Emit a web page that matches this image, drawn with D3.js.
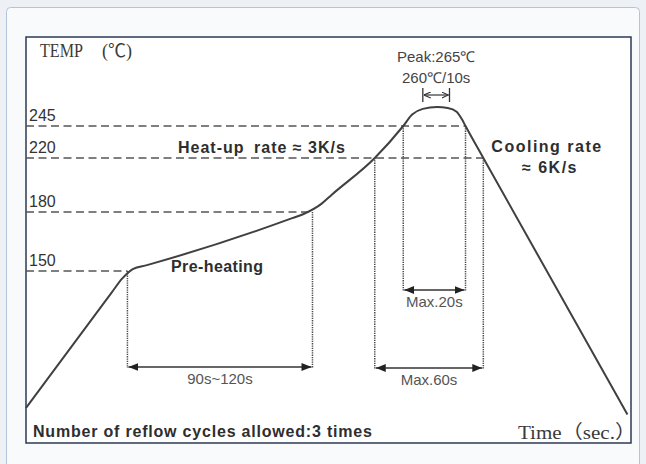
<!DOCTYPE html>
<html>

<head>
    <title>reflow profile</title>
    <style>
    body {
        margin: 0;
        background: #edf1f5;
    }

    svg#profile text {
        font-family: "Liberation Sans", Arial, sans-serif;
        fill: #333;
    }

    svg#profile text.serif {
        font-family: "Liberation Serif", "Noto Sans CJK SC", serif;
        fill: #3a3a3a;
    }

    svg#profile text.bold {
        font-weight: bold;
        font-size: 16px;
        letter-spacing: 1px;
        fill: #2e2e2e;
    }

    svg#profile text.small {
        font-size: 15px;
        fill: #555;
    }

    path.curve {
        fill: none;
        stroke: #404040;
        stroke-width: 2;
    }

    line.level {
        stroke: #555;
        stroke-width: 1.6;
        stroke-dasharray: 8 4.5;
    }

    line.drop {
        stroke: #4a4a4a;
        stroke-width: 1.5;
        stroke-dasharray: 1.3 1;
    }

    line.span {
        stroke: #333;
        stroke-width: 1.5;
    }
    </style>
</head>

<body>
    <svg id="profile"></svg>
    <script src="https://cdnjs.cloudflare.com/ajax/libs/d3/7.8.5/d3.min.js"></script>
    <script>
    // profile: time (s) / temperature (degC)
    var timeSec = [0, 48, 54, 60, 68, 150, 156, 166, 172, 196, 212, 217, 223, 231, 237, 242, 245, 247, 257, 338];
    var tempC = [25, 130, 143, 151, 153, 177, 179, 186, 193, 220, 245, 257, 263, 265, 264, 260, 252, 245, 220, 19];

    // dashed temperature levels and where they meet the curve
    var levelTemps = [245, 220, 180, 150];
    var levelEndTimes = [247, 257, 161, 57];

    // time spans under the curve
    var spanLabels = ['90s~120s', 'Max.60s', 'Max.20s'];
    var spanFrom = [57, 196, 212];
    var spanTo = [161, 257, 247];
    var spanFromTemp = [150, 220, 245];
    var spanToTemp = [180, 220, 245];

    // peak dwell
    var dwellFrom = 223;
    var dwellTo = 238;
    var peakLabels = ['Peak:265\u2103', '260\u2103/10s'];

    var chart = {
        width: 646,
        height: 464,
        box: { left: 26, top: 37, right: 631, bottom: 443 },
        spanY: [367, 368, 290],
        dwellY: 95
    };

    var svg = d3.select('svg#profile')
        .attr('width', chart.width)
        .attr('height', chart.height);

    var box = chart.box;

    // the sketch is not to scale, so the temperature axis is piecewise
    var x = d3.scaleLinear().domain([0, 340]).range([box.left, box.right]);
    var y = d3.scaleLinear()
        .domain([25, 150, 180, 220, 245, 265])
        .range([408, 271, 212, 158, 126, 107]);

    var defs = svg.append('defs');
    defs.append('marker')
        .attr('id', 'head')
        .attr('viewBox', '0 0 10 8')
        .attr('refX', 10).attr('refY', 4)
        .attr('markerUnits', 'userSpaceOnUse')
        .attr('markerWidth', 10).attr('markerHeight', 8)
        .attr('orient', 'auto-start-reverse')
        .append('path')
        .attr('d', 'M0,0 L10,4 L0,8 Z')
        .attr('fill', '#222');
    defs.append('marker')
        .attr('id', 'open')
        .attr('viewBox', '0 0 8 8')
        .attr('refX', 8).attr('refY', 4)
        .attr('markerUnits', 'userSpaceOnUse')
        .attr('markerWidth', 7).attr('markerHeight', 7)
        .attr('orient', 'auto-start-reverse')
        .append('path')
        .attr('d', 'M0,0.5 L8,4 L0,7.5')
        .attr('fill', 'none')
        .attr('stroke', '#333')
        .attr('stroke-width', 1.2);

    // page panel + frame
    svg.append('rect')
        .attr('x', 6.5).attr('y', 7.5)
        .attr('width', 633).attr('height', 470)
        .attr('rx', 4)
        .attr('fill', '#f8fafc')
        .attr('stroke', '#b4c4d8');
    svg.append('rect')
        .attr('x', box.left).attr('y', box.top)
        .attr('width', box.right - box.left)
        .attr('height', box.bottom - box.top)
        .attr('fill', '#fff')
        .attr('stroke', '#2c3a56')
        .attr('stroke-width', 1.5);

    // dashed levels
    svg.selectAll('line.level')
        .data(levelTemps)
        .enter().append('line')
        .attr('class', 'level')
        .attr('x1', box.left)
        .attr('x2', function(d, i) { return x(levelEndTimes[i]); })
        .attr('y1', function(d) { return y(d); })
        .attr('y2', function(d) { return y(d); });

    svg.selectAll('text.tick')
        .data(levelTemps)
        .enter().append('text')
        .attr('class', 'tick')
        .attr('x', box.left + 3)
        .attr('y', function(d) { return y(d) - 5.5; })
        .style('font-size', '16px')
        .text(function(d) { return d; });

    // dotted drops + span arrows
    spanLabels.forEach(function(label, i) {
        var ay = chart.spanY[i];
        svg.append('line').attr('class', 'drop')
            .attr('x1', x(spanFrom[i])).attr('x2', x(spanFrom[i]))
            .attr('y1', y(spanFromTemp[i])).attr('y2', ay + 1);
        svg.append('line').attr('class', 'drop')
            .attr('x1', x(spanTo[i])).attr('x2', x(spanTo[i]))
            .attr('y1', y(spanToTemp[i])).attr('y2', ay + 1);
        svg.append('line').attr('class', 'span')
            .attr('x1', x(spanFrom[i]) + 1).attr('x2', x(spanTo[i]) - 1)
            .attr('y1', ay).attr('y2', ay)
            .attr('marker-start', 'url(#head)')
            .attr('marker-end', 'url(#head)');
        svg.append('text').attr('class', 'small')
            .attr('x', (x(spanFrom[i]) + x(spanTo[i])) / 2)
            .attr('y', ay + 17)
            .attr('text-anchor', 'middle')
            .text(label);
    });

    // the profile
    var line = d3.line()
        .x(function(d, i) { return x(timeSec[i]); })
        .y(function(d) { return y(d); })
        .curve(d3.curveMonotoneX);
    svg.append('path')
        .attr('class', 'curve')
        .attr('d', line(tempC));

    // peak dwell marker
    var dy = chart.dwellY;
    [dwellFrom, dwellTo].forEach(function(t) {
        svg.append('line')
            .attr('x1', x(t)).attr('x2', x(t))
            .attr('y1', dy - 7).attr('y2', dy + 7)
            .attr('stroke', '#333').attr('stroke-width', 1.3);
    });
    svg.append('line')
        .attr('x1', x(dwellFrom) + 1).attr('x2', x(dwellTo) - 1)
        .attr('y1', dy).attr('y2', dy)
        .attr('stroke', '#333').attr('stroke-width', 1.2)
        .attr('marker-start', 'url(#open)')
        .attr('marker-end', 'url(#open)');
    peakLabels.forEach(function(s, i) {
        svg.append('text')
            .attr('x', (x(dwellFrom) + x(dwellTo)) / 2)
            .attr('y', 62 + i * 21)
            .attr('text-anchor', 'middle')
            .style('font-size', '15px')
            .style('fill', '#444')
            .text(s);
    });

    // titles and notes
    svg.append('text').attr('class', 'serif')
        .attr('x', 40).attr('y', 57)
        .style('font-size', '19px')
        .attr('textLength', 43).attr('lengthAdjust', 'spacingAndGlyphs')
        .text('TEMP');
    svg.append('text').attr('class', 'serif')
        .attr('x', 102).attr('y', 57)
        .style('font-size', '18px')
        .text('(\u2103)');

    var heat = svg.append('text').attr('class', 'bold')
        .attr('x', 178).attr('y', 153);
    heat.append('tspan').text('Heat-up');
    heat.append('tspan').attr('x', 254).text('rate \u2248 3K/s');

    svg.append('text').attr('class', 'bold')
        .attr('x', 547).attr('y', 152)
        .attr('text-anchor', 'middle')
        .style('letter-spacing', '1.5px')
        .text('Cooling rate');
    svg.append('text').attr('class', 'bold')
        .attr('x', 550).attr('y', 173)
        .attr('text-anchor', 'middle')
        .style('letter-spacing', '1.5px')
        .text('\u2248 6K/s');

    svg.append('text').attr('class', 'bold')
        .attr('x', 171).attr('y', 272)
        .style('letter-spacing', '0.4px')
        .text('Pre-heating');

    svg.append('text').attr('class', 'bold')
        .attr('x', 33).attr('y', 437)
        .style('letter-spacing', '0.8px')
        .text('Number of reflow cycles allowed:3 times');

    svg.append('text').attr('class', 'serif')
        .attr('x', 518).attr('y', 439)
        .style('font-size', '19px')
        .attr('textLength', 118).attr('lengthAdjust', 'spacingAndGlyphs')
        .text('Time\uFF08sec.\uFF09');
    </script>
</body>

</html>
